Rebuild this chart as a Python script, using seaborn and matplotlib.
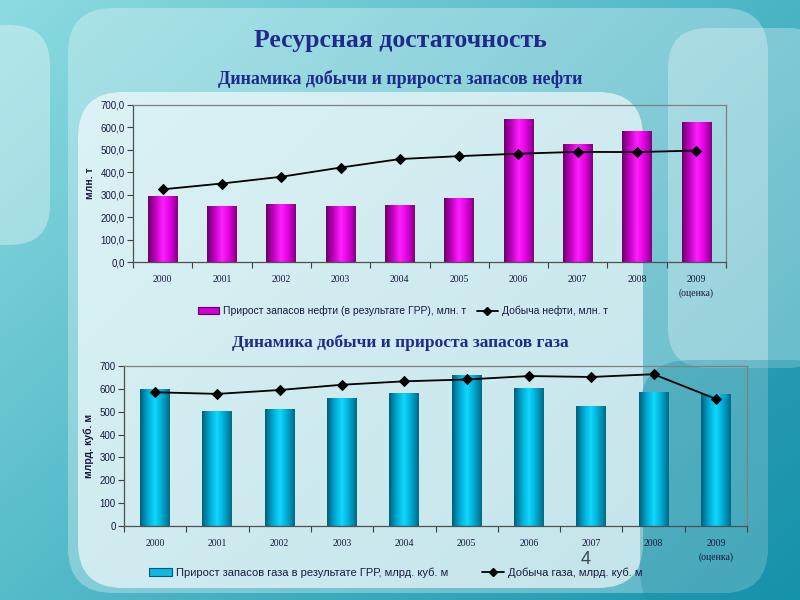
import numpy as np
import pandas as pd
import matplotlib
matplotlib.use("Agg")
import matplotlib.pyplot as plt
import seaborn as sns
from matplotlib.patches import FancyBboxPatch, Patch
from matplotlib.lines import Line2D
from matplotlib.colors import LinearSegmentedColormap
from matplotlib.ticker import FuncFormatter, FixedLocator

# ---------------- data ----------------
years = ["2000", "2001", "2002", "2003", "2004", "2005", "2006", "2007", "2008", "2009"]
year_labels = ["2000", "2001", "2002", "2003", "2004", "2005", "2006", "2007", "2008", "2009\n(оценка)"]
oil_reserve_growth = [295, 250, 260, 250, 256, 286, 637, 524, 584, 622]
oil_production = [324, 350, 380, 421, 459, 472, 483, 491, 490, 497]
gas_reserve_growth = [600, 503, 512, 560, 583, 660, 602, 527, 588, 578]
gas_production = [585, 578, 595, 618, 633, 641, 656, 652, 664, 556]

title = "Ресурсная достаточность"
oil_title = "Динамика добычи и прироста запасов нефти"
gas_title = "Динамика добычи и прироста запасов газа"
oil_bar_label = "Прирост запасов нефти (в результате ГРР), млн. т"
oil_line_label = "Добыча нефти, млн. т"
gas_bar_label = "Прирост запасов газа в результате ГРР, млрд. куб. м"
gas_line_label = "Добыча газа, млрд. куб. м"

sns.set_theme(style="white")
plt.rcParams['font.family'] = ['Liberation Sans', 'DejaVu Sans']

fig = plt.figure(figsize=(8, 6), dpi=100)

# ---------------- slide background ----------------
bg = fig.add_axes([0, 0, 1, 1], zorder=-10)
bg.set_xlim(0, 800)
bg.set_ylim(600, 0)
bg.axis("off")
yy, xx = np.mgrid[0:600, 0:800]
t = np.clip((xx / 800) * 0.55 + (yy / 600) * 0.45, 0, 1)
c0 = np.array([0.55, 0.86, 0.88])
c1 = np.array([0.08, 0.58, 0.68])
img = c0[None, None, :] * (1 - t[..., None]) + c1[None, None, :] * t[..., None]
bg.imshow(img, extent=[0, 800, 600, 0], aspect="auto", zorder=0)

def panel(x, y, w, h, r, color, alpha):
    p = FancyBboxPatch((x, y), w, h, boxstyle=f"round,pad=0,rounding_size={r}",
                       facecolor=color, edgecolor="none", alpha=alpha, zorder=1)
    bg.add_patch(p)

panel(-60, 25, 110, 220, 40, "white", 0.35)
panel(68, 8, 700, 585, 45, "white", 0.3)
panel(668, 28, 160, 340, 40, "white", 0.3)
panel(78, 92, 565, 496, 45, "white", 0.62)
panel(640, 360, 200, 260, 50, "#1a8ea5", 0.35)

# ---------------- text ----------------
navy = "#1f2a8c"
serif = ['Liberation Serif', 'DejaVu Serif']
fig.text(0.5, 1 - 40 / 600, title, ha="center", va="center", fontsize=18.5,
         fontweight="bold", color=navy, family=serif)
fig.text(0.5, 1 - 79 / 600, oil_title, ha="center", va="center", fontsize=13,
         fontweight="bold", color=navy, family=serif)
fig.text(0.5, 1 - 343 / 600, gas_title, ha="center", va="center", fontsize=12.5,
         fontweight="bold", color=navy, family=serif)
fig.text(586 / 800, 1 - 559 / 600, "4", ha="center", va="center", fontsize=13,
         color="#3a4a55", family=['Liberation Sans'])

magenta_cmap = LinearSegmentedColormap.from_list(
    "mag", ["#6a006a", "#c000c0", "#ff20ff", "#e000e0", "#800080"])
cyan_cmap = LinearSegmentedColormap.from_list(
    "cy", ["#00607a", "#00a8d0", "#10d8ff", "#00a8d0", "#006a85"])


def gradient_bars(ax, cmap):
    grad = np.linspace(0, 1, 64)[None, :]
    for p in list(ax.patches):
        x0, y0 = p.get_x(), p.get_y()
        w, h = p.get_width(), p.get_height()
        im = ax.imshow(grad, extent=[x0, x0 + w, y0, y0 + h], cmap=cmap,
                       aspect="auto", zorder=2, interpolation="bicubic")
        im.set_clip_path(p)
        p.set_facecolor("none")
        p.set_edgecolor("none")


def style_axes(ax, labels, ymax):
    ax.set_facecolor("none")
    for s in ax.spines.values():
        s.set_visible(True)
        s.set_color("#808080")
        s.set_linewidth(0.9)
    ax.spines["left"].set_color("#505050")
    ax.spines["bottom"].set_color("#505050")
    ax.set_xlim(-0.5, len(labels) - 0.5)
    ax.set_ylim(0, ymax)
    ax.set_yticks(np.arange(0, ymax + 1, 100))
    ax.tick_params(axis="y", direction="out", length=4, width=0.8, color="#404040",
                   labelsize=7, labelcolor="#1a1a40", left=True, pad=2)
    ax.set_xticks(np.arange(len(labels)))
    ax.set_xticklabels(labels, fontsize=7, color="#1a1a40", family=serif,
                       linespacing=1.6)
    ax.tick_params(axis="x", length=0, pad=9)
    ax.xaxis.set_minor_locator(FixedLocator(np.arange(-0.5, len(labels), 1.0)))
    ax.tick_params(axis="x", which="minor", direction="out", length=4, width=0.8,
                   color="#404040", bottom=True)
    ax.set_xlabel("")


# ---------------- oil chart ----------------
oil_df = pd.DataFrame({"year": years, "growth": oil_reserve_growth,
                       "prod": oil_production})
ax1 = fig.add_axes([133 / 800, 1 - 262 / 600, (726 - 133) / 800, (262 - 105) / 600])
sns.barplot(data=oil_df, x="year", y="growth", color="#e000e0", width=0.5,
            ax=ax1, zorder=2)
gradient_bars(ax1, magenta_cmap)
sns.lineplot(x=np.arange(len(years)), y=oil_df["prod"], ax=ax1, color="black",
             linewidth=1.3, marker="D", markersize=5, markeredgecolor="black",
             zorder=4)
style_axes(ax1, year_labels, 700)
ax1.yaxis.set_major_formatter(FuncFormatter(lambda v, p: f"{v:.1f}".replace(".", ",")))
ax1.set_ylabel("млн. т", fontsize=7.5, fontweight="bold", color="#1a1a40", labelpad=4)

h1 = [Patch(facecolor="#d000d0", edgecolor="#600060", linewidth=0.8),
      Line2D([0], [0], color="black", marker="D", markersize=4, linewidth=1.3)]
fig.legend(h1, [oil_bar_label, oil_line_label], loc="center",
           bbox_to_anchor=(403 / 800, 1 - 311 / 600), ncol=2, frameon=False,
           fontsize=7.5, handlelength=2.0, handleheight=0.7, columnspacing=1.0,
           handletextpad=0.4, labelcolor="#1a1a40")

# ---------------- gas chart ----------------
gas_df = pd.DataFrame({"year": years, "growth": gas_reserve_growth,
                       "prod": gas_production})
ax2 = fig.add_axes([124 / 800, 1 - 526 / 600, (747 - 124) / 800, (526 - 366) / 600])
sns.barplot(data=gas_df, x="year", y="growth", color="#10c0e8", width=0.48,
            ax=ax2, zorder=2)
gradient_bars(ax2, cyan_cmap)
sns.lineplot(x=np.arange(len(years)), y=gas_df["prod"], ax=ax2, color="black",
             linewidth=1.3, marker="D", markersize=5, markeredgecolor="black",
             zorder=4)
style_axes(ax2, year_labels, 700)
ax2.yaxis.set_major_formatter(FuncFormatter(lambda v, p: f"{int(v)}"))
ax2.set_ylabel("млрд. куб. м", fontsize=7.5, fontweight="bold", color="#1a1a40",
               labelpad=4)

h2 = [Patch(facecolor="#10b8e0", edgecolor="#005a78", linewidth=0.8),
      Line2D([0], [0], color="black", marker="D", markersize=4, linewidth=1.3)]
fig.legend(h2, [gas_bar_label, gas_line_label], loc="center",
           bbox_to_anchor=(396 / 800, 1 - 573 / 600), ncol=2, frameon=False,
           fontsize=8, handlelength=2.0, handleheight=0.7, columnspacing=3.0,
           handletextpad=0.4, labelcolor="#1a1a40")

fig.savefig("out.png", dpi=100)
